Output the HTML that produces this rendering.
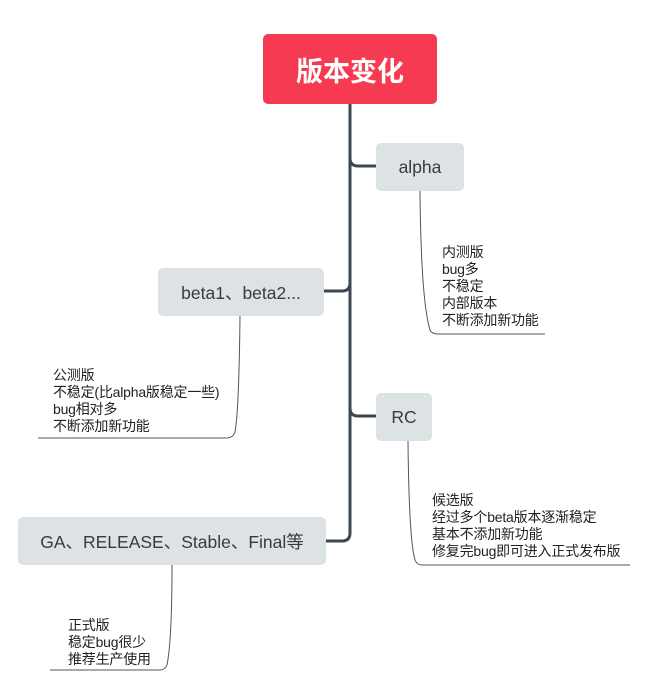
<!DOCTYPE html>
<html><head><meta charset="utf-8"><style>
body{margin:0;width:665px;height:679px;background:#fff;position:relative;overflow:hidden;font-family:"Liberation Sans","Noto Sans CJK SC",sans-serif}
.n{position:absolute;background:#dde3e4;border-radius:5px;color:#3a3a3a;display:flex;align-items:center;justify-content:center;font-size:17.5px}
.t{position:absolute;font-size:14px;line-height:17px;color:#222;white-space:nowrap;letter-spacing:-0.2px}
</style></head><body>
<svg width="665" height="679" style="position:absolute;left:0;top:0">
<g fill="none" stroke="#3d4752" stroke-width="3">
<path d="M350 104 V533 Q350 541 342 541 H326"/>
<path d="M350 158 Q350 166 358 166 H376"/>
<path d="M350 283 Q350 291 342 291 H324"/>
<path d="M350 408 Q350 416 358 416 H376"/>
</g>
<g fill="none" stroke="#555" stroke-width="1">
<path d="M420 191 Q421 300 430 330 Q432 334 438 334 H545"/>
<path d="M240 316 Q239 410 235 432 Q233 438 226 438 H38"/>
<path d="M408 441 Q409 540 415 560 Q417 565 422 565 H630"/>
<path d="M172 565 Q172 640 167 665 Q165 670 160 670 H50"/>
</g>
</svg>
<div class="n" style="left:263px;top:34px;width:174px;height:70px;background:#f63a52;color:#fff;font-size:27px;font-weight:bold">版本变化</div>
<div class="n" style="left:376px;top:143px;width:88px;height:48px">alpha</div>
<div class="n" style="left:158px;top:268px;width:166px;height:48px">beta1、beta2...</div>
<div class="n" style="left:376px;top:393px;width:56px;height:48px">RC</div>
<div class="n" style="left:18px;top:517px;width:308px;height:48px">GA、RELEASE、Stable、Final等</div>
<div class="t" style="left:442px;top:244px">内测版<br>bug多<br>不稳定<br>内部版本<br>不断添加新功能</div>
<div class="t" style="left:53px;top:367px">公测版<br>不稳定(比alpha版稳定一些)<br>bug相对多<br>不断添加新功能</div>
<div class="t" style="left:432px;top:492px">候选版<br>经过多个beta版本逐渐稳定<br>基本不添加新功能<br>修复完bug即可进入正式发布版</div>
<div class="t" style="left:68px;top:617px">正式版<br>稳定bug很少<br>推荐生产使用</div>
</body></html>
